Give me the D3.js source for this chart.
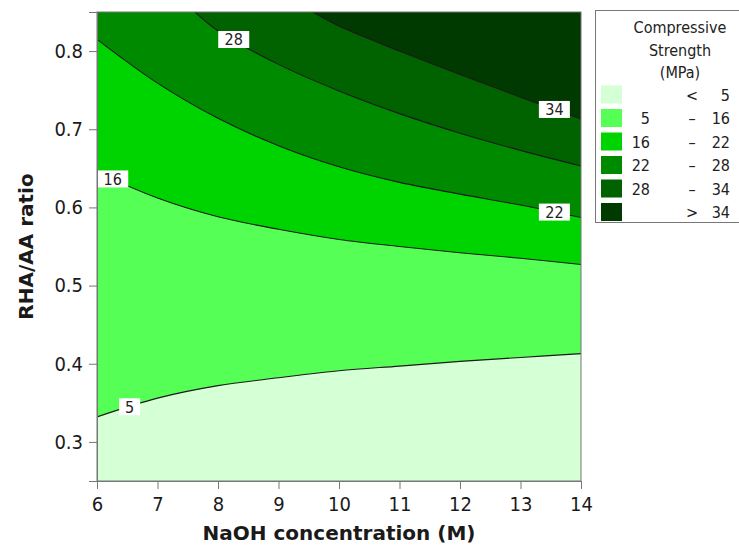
<!DOCTYPE html>
<html><head><meta charset="utf-8">
<script src="https://cdn.jsdelivr.net/npm/d3@7"></script>
<style>
html,body{margin:0;padding:0;background:#fff;}
svg{display:block;font-family:"DejaVu Sans",Verdana,sans-serif;}
.cond{font-family:"DejaVu Sans Condensed","DejaVu Sans",sans-serif;font-stretch:condensed;}
</style></head>
<body><svg id="chart" width="739" height="545"></svg>
<script>
// ---- data ----
const xTicks = [6,7,8,9,10,11,12,13,14];
const yTicks = [0.3,0.4,0.5,0.6,0.7,0.8];
const levels = [5,16,22,28,34];
const bandLabels = [["", "<", "5"],["5","–","16"],["16","–","22"],["22","–","28"],["28","–","34"],["", ">", "34"]];
const bandColors = ["#d5ffd5","#55ff55","#00d400","#008a00","#006300","#003a00"];
const contour5X  = [6,7,8,9,10,11,12,13,14];
const contour5Y  = [0.332,0.356,0.372,0.382,0.391,0.397,0.403,0.408,0.413];
const contour16X = [6,7,8,9,10,11,12,13,14];
const contour16Y = [0.645,0.612,0.588,0.572,0.559,0.550,0.542,0.535,0.527];
const contour22X = [6,7,8,9,10,11,12,13,14];
const contour22Y = [0.815,0.759,0.714,0.679,0.652,0.632,0.617,0.603,0.587];
const contour28X = [7.62,8,9,10,11,12,13,14];
const contour28Y = [0.85,0.826,0.783,0.749,0.720,0.695,0.673,0.653];
const contour34X = [9.57,10,11,12,13,14];
const contour34Y = [0.85,0.832,0.800,0.770,0.741,0.713];
const labelX = [6.54,6.26,13.56,8.26,13.56];

const contours = levels.map((lv,i)=>({
  level: lv,
  xs: [contour5X,contour16X,contour22X,contour28X,contour34X][i],
  ys: [contour5Y,contour16Y,contour22Y,contour28Y,contour34Y][i]
}));

// ---- layout ----
const L=97, R=581, T=12, B=481;
const svg = d3.select("#chart");
const x = d3.scaleLinear().domain([6,14]).range([L,R]);
const y = d3.scaleLinear().domain([0.25,0.85]).range([B,T]);

svg.append("clipPath").attr("id","clip").append("rect")
  .attr("x",L).attr("y",T).attr("width",R-L).attr("height",B-T);

const g = svg.append("g").attr("clip-path","url(#clip)");
g.append("rect").attr("x",L).attr("y",T).attr("width",R-L).attr("height",B-T)
  .attr("fill",bandColors[0]);

const curve = d3.curveCatmullRom.alpha(0.5);
contours.forEach((c,i)=>{
  const pts = c.xs.map((v,j)=>[v,c.ys[j]]);
  const area = d3.area().curve(curve).x(d=>x(d[0])).y0(y(0.85)).y1(d=>y(d[1]));
  g.append("path").attr("d",area(pts)).attr("fill",bandColors[i+1]);
});
contours.forEach((c)=>{
  const pts = c.xs.map((v,j)=>[v,c.ys[j]]);
  const line = d3.line().curve(curve).x(d=>x(d[0])).y(d=>y(d[1]));
  g.append("path").attr("d",line(pts)).attr("fill","none")
    .attr("stroke","#1a1a1a").attr("stroke-width",1.1);
});

// contour labels
contours.forEach((c,i)=>{
  const lx = labelX[i];
  const yv = d3.scaleLinear().domain(c.xs).range(c.ys).clamp(true)(lx);
  const cx = x(lx), cy = y(yv);
  const txt = String(c.level);
  const w = txt.length>1 ? 31 : 21, h = 17;
  const lg = svg.append("g");
  lg.append("rect").attr("x",cx-w/2).attr("y",cy-h/2).attr("width",w).attr("height",h)
    .attr("fill","#fff");
  lg.append("text").attr("class","cond").attr("x",cx).attr("y",cy+6).attr("text-anchor","middle")
    .attr("font-size",16).attr("fill","#222").text(txt);
});

// frame
svg.append("rect").attr("x",L).attr("y",T).attr("width",R-L).attr("height",B-T)
  .attr("fill","none").attr("stroke","#777").attr("stroke-width",1);

// axes
const xAxis = svg.append("g").attr("transform",`translate(0,${B})`)
  .call(d3.axisBottom(x).tickValues(xTicks).tickSize(8).tickPadding(8).tickFormat(d3.format("d")));
const yAxis = svg.append("g").attr("transform",`translate(${L},0)`)
  .call(d3.axisLeft(y).tickValues(yTicks).tickSize(8).tickPadding(6).tickFormat(d3.format(".1f")));
[xAxis,yAxis].forEach(a=>{
  a.select(".domain").attr("stroke","#777");
  a.selectAll(".tick line").attr("stroke","#777");
  a.selectAll(".tick text").attr("class","cond").attr("font-size",20).attr("fill","#1a1a1a")
    .attr("font-family",null);
});

svg.append("text").attr("x",(L+R)/2).attr("y",540).attr("text-anchor","middle")
  .attr("font-size",20).attr("font-weight","bold").attr("fill","#1a1a1a")
  .text("NaOH concentration (M)");
svg.append("text").attr("transform",`translate(33,${(T+B)/2}) rotate(-90)`)
  .attr("text-anchor","middle").attr("font-size",20).attr("font-weight","bold")
  .attr("fill","#1a1a1a").text("RHA/AA ratio");

// legend
const leg = svg.append("g");
leg.append("rect").attr("x",595.5).attr("y",10.5).attr("width",160).attr("height",212)
  .attr("fill","#fff").attr("stroke","#777");
["Compressive","Strength","(MPa)"].forEach((t,i)=>{
  leg.append("text").attr("class","cond").attr("x",680).attr("y",33+i*22.5).attr("text-anchor","middle")
    .attr("font-size",16).attr("fill","#222").text(t);
});
bandLabels.forEach((b,i)=>{
  const cy = 94.5 + i*23.5;
  leg.append("rect").attr("x",601).attr("y",cy-9).attr("width",21).attr("height",18)
    .attr("fill",bandColors[i]);
  leg.append("text").attr("class","cond").attr("x",650).attr("y",cy+6).attr("text-anchor","end")
    .attr("font-size",16).attr("fill","#222").text(b[0]);
  leg.append("text").attr("class","cond").attr("x",692).attr("y",cy+6).attr("text-anchor","middle")
    .attr("font-size",16).attr("fill","#222").text(b[1]);
  leg.append("text").attr("class","cond").attr("x",730).attr("y",cy+6).attr("text-anchor","end")
    .attr("font-size",16).attr("fill","#222").text(b[2]);
});
</script></body></html>
